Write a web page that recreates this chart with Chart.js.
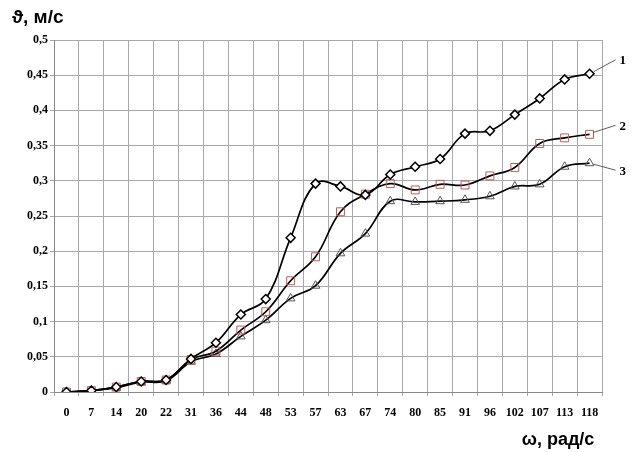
<!DOCTYPE html>
<html>
<head>
<meta charset="utf-8">
<script src="https://cdn.jsdelivr.net/npm/chart.js@4/dist/chart.umd.min.js"></script>
<style>
  html, body { margin: 0; padding: 0; background: #fff; }
  #wrap { width: 632px; height: 452px; }
</style>
</head>
<body>
<div id="wrap"><canvas id="grafico"></canvas></div>
<script>
const omega = ['0', '7', '14', '20', '22', '31', '36', '44', '48', '53', '57', '63', '67', '74', '80', '85', '91', '96', '102', '107', '113', '118'];

const curva1 = [0, 0.002, 0.007, 0.015, 0.017, 0.047, 0.07, 0.11, 0.132, 0.219, 0.296, 0.292, 0.28, 0.309, 0.32, 0.331, 0.367, 0.371, 0.394, 0.417, 0.444, 0.452];
const curva2 = [0, 0.002, 0.007, 0.015, 0.017, 0.046, 0.058, 0.088, 0.114, 0.158, 0.192, 0.256, 0.281, 0.296, 0.287, 0.295, 0.294, 0.307, 0.319, 0.353, 0.361, 0.366];
const curva3 = [0, 0.002, 0.006, 0.014, 0.016, 0.043, 0.054, 0.079, 0.102, 0.133, 0.151, 0.197, 0.225, 0.271, 0.27, 0.271, 0.273, 0.278, 0.292, 0.295, 0.32, 0.325];

const etiquetas = ['1', '2', '3'];

const textos = {
  id: 'textos',
  afterDraw(chart) {
    const ctx = chart.ctx;
    ctx.save();
    ctx.fillStyle = '#000';
    ctx.font = 'bold 19px "Liberation Sans", Arial, sans-serif';
    ctx.textBaseline = 'middle';
    ctx.textAlign = 'left';
    ctx.fillText('ϑ, м/с', 12, 18);
    ctx.font = 'bold 18px "Liberation Sans", Arial, sans-serif';
    ctx.textAlign = 'center';
    ctx.fillText('ω, рад/с', 558, 440);

    // leader lines and curve numbers
    const desp = [-14, -9, 7];
    ctx.font = 'bold 13px "Liberation Serif", "Times New Roman", serif';
    ctx.textAlign = 'left';
    chart.data.datasets.forEach((ds, i) => {
      const meta = chart.getDatasetMeta(i);
      const p = meta.data[meta.data.length - 1];
      const ly = p.y + desp[i];
      ctx.strokeStyle = '#333';
      ctx.lineWidth = 0.8;
      ctx.beginPath();
      ctx.moveTo(p.x + 4, p.y + (desp[i] < 0 ? -2 : 1));
      ctx.lineTo(p.x + 26, ly);
      ctx.stroke();
      ctx.fillText(etiquetas[i], p.x + 30, ly + 1);
    });
    ctx.restore();
  }
};

const ctx = document.getElementById('grafico').getContext('2d');
new Chart(ctx, {
  type: 'line',
  data: {
    labels: omega,
    datasets: [
      {
        label: '1',
        data: curva1,
        borderColor: '#000',
        borderWidth: 1.7,
        tension: 0.4,
        pointStyle: 'rectRot',
        pointRadius: 4.5,
        pointBorderWidth: 1.5,
        pointBackgroundColor: '#fff',
        pointBorderColor: '#000'
      },
      {
        label: '2',
        data: curva2,
        borderColor: '#000',
        borderWidth: 1.7,
        tension: 0.4,
        pointStyle: 'rect',
        pointRadius: 5.6,
        pointBorderWidth: 1,
        pointBackgroundColor: 'rgba(255,255,255,0)',
        pointBorderColor: '#c05a5a'
      },
      {
        label: '3',
        data: curva3,
        borderColor: '#000',
        borderWidth: 1.7,
        tension: 0.4,
        pointStyle: 'triangle',
        pointRadius: 5,
        pointBorderWidth: 1,
        pointBackgroundColor: 'rgba(255,255,255,0)',
        pointBorderColor: '#555'
      }
    ]
  },
  options: {
    responsive: true,
    maintainAspectRatio: false,
    animation: false,
    layout: { padding: { top: 40, right: 30, left: 0, bottom: 0 } },
    plugins: {
      legend: { display: false },
      tooltip: { enabled: false }
    },
    scales: {
      x: {
        offset: true,
        grid: { offset: true, color: '#a8a8a8', lineWidth: 1, tickLength: 4 },
        border: { color: '#888', width: 1 },
        ticks: {
          color: '#000',
          padding: 10,
          maxRotation: 0,
          autoSkip: false,
          font: { family: '"Liberation Serif", "Times New Roman", serif', size: 12, weight: 'bold' }
        },
        afterFit(scale) { scale.height = 60; }
      },
      y: {
        min: 0,
        max: 0.5,
        ticks: {
          stepSize: 0.05,
          color: '#000',
          padding: 2,
          font: { family: '"Liberation Serif", "Times New Roman", serif', size: 12, weight: 'bold' },
          callback: v => String(parseFloat(v.toFixed(2))).replace('.', ',')
        },
        grid: { color: '#a8a8a8', lineWidth: 1, tickLength: 4 },
        border: { color: '#888', width: 1 },
        afterFit(scale) { scale.width = 54; }
      }
    }
  },
  plugins: [textos]
});
</script>
</body>
</html>
